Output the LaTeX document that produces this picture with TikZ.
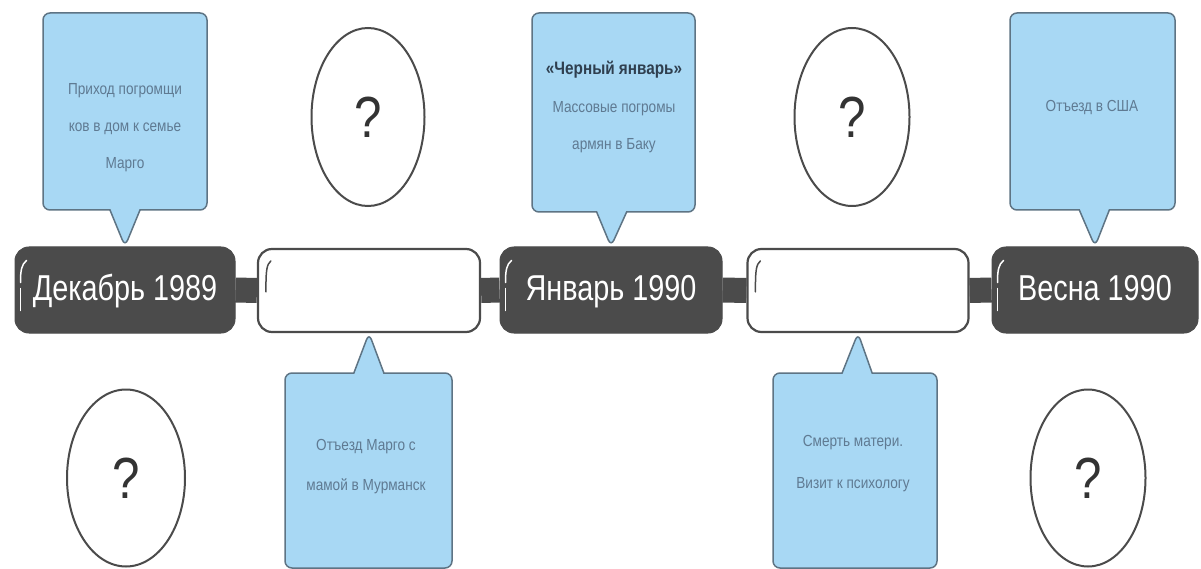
\documentclass[tikz,border=0pt]{standalone}
\usepackage{fontspec}
\setmainfont{Liberation Sans}
\newfontfamily\narrowfont[FakeStretch=0.8]{Liberation Sans}
\newfontfamily\cfont[FakeStretch=0.85]{Liberation Sans}
\usetikzlibrary{shapes.callouts,shapes.geometric,calc}
\definecolor{darkg}{HTML}{4B4B4B}
\definecolor{cfill}{HTML}{A8D8F4}
\definecolor{cborder}{HTML}{5E7484}
\definecolor{ctextc}{HTML}{5F7A92}
\definecolor{ctitle}{HTML}{2F3F4F}
\pgfdeclarelayer{bg}
\pgfsetlayers{bg,main}
\tikzset{
  darkbox/.style={draw=darkg, fill=darkg, line width=1pt, rounded corners=14pt,
    minimum height=86pt, inner sep=0pt, text=white, text height=26pt, text depth=6pt,
    font={\narrowfont\fontsize{36}{40}\selectfont}},
  whitebox/.style={draw=darkg, fill=white, line width=2.2pt, rounded corners=14pt,
    minimum height=83pt, inner sep=0pt},
  bar/.style={draw=darkg, line width=25pt},
  callbox/.style={rectangle callout, draw=cborder, line width=1.5pt, fill=cfill,
    rounded corners=7pt, callout pointer width=30pt, inner sep=0pt},
  ctext/.style={align=center, text=ctextc, inner sep=0pt,
    font={\cfont\fontsize{16}{37}\selectfont}},
  qmark/.style={ellipse, draw=darkg, line width=2pt, fill=white, inner sep=0pt,
    text=black!80, font={\cfont\fontsize{58}{60}\selectfont}},
  darcw/.style={white, line width=1.5pt, line cap=round},
  darcg/.style={darkg, line width=1.5pt, line cap=round}
}
\begin{document}
\begin{tikzpicture}[x=1pt,y=-1pt]
\useasboundingbox (0,0) rectangle (1201,569);

% timeline nodes
\node[darkbox, minimum width=220pt] (d1) at (125,290) {Декабрь 1989};
\node[whitebox, minimum width=222pt] (w1) at (369,290.5) {};
\node[darkbox, minimum width=222pt] (d2) at (611,290) {Январь 1990};
\node[whitebox, minimum width=221pt] (w2) at (858,290.5) {};
\node[darkbox, minimum width=206pt] (d3) at (1095,290) {Весна 1990};

% background and connector bars
\begin{pgfonlayer}{bg}
\fill[white] (0,0) rectangle (1201,569);
\draw[bar] (d1.east) -- (w1.west);
\draw[bar] (w1.east) -- (d2.west);
\draw[bar] (d2.east) -- (w2.west);
\draw[bar] (w2.east) -- (d3.west);
\end{pgfonlayer}

% small highlight arcs
\foreach \n in {d1,d2,d3}{
  \draw[darcw] ($(\n.north west)+(12,14)$) .. controls ($(\n.north west)+(7,18)$) and ($(\n.north west)+(6,24)$) .. ($(\n.north west)+(6,36)$);
  \draw[darcw] ($(\n.north west)+(6,42)$) -- ($(\n.north west)+(6,64)$);
}
\foreach \n in {w1,w2}{
  \draw[darcg] ($(\n.north west)+(14,13)$) .. controls ($(\n.north west)+(10,17)$) and ($(\n.north west)+(9,20)$) .. ($(\n.north west)+(9,44)$);
}

% callouts
\node[callbox, minimum width=164pt, minimum height=197pt,
  callout absolute pointer={(d1.north)}] (c1) at (125,111.5) {};
\node[callbox, minimum width=163pt, minimum height=199pt,
  callout absolute pointer={(d2.north)}] (c2) at (613.5,112.5) {};
\node[callbox, minimum width=165pt, minimum height=197pt,
  callout absolute pointer={(d3.north)}] (c5) at (1092.5,111.5) {};
\node[callbox, minimum width=167pt, minimum height=195pt,
  callout absolute pointer={(w1.south)}] (c3) at (368.5,470.5) {};
\node[callbox, minimum width=164pt, minimum height=195pt,
  callout absolute pointer={(w2.south)}] (c4) at (855,470.5) {};

% callout texts
\node[ctext] (t1) at (125,128) {Приход погромщи\\ков в дом к семье\\Марго};
\node[ctext, text=ctitle, font={\cfont\bfseries\fontsize{18}{20}\selectfont}] (t2a) at (614,70) {«Черный январь»};
\node[ctext] (t2) at (614,127) {Массовые погромы\\армян в Баку};
\node[ctext] (t5) at (1092,108) {Отъезд в США};
\node[ctext, font={\cfont\fontsize{16}{40}\selectfont}] (t3) at (366,467) {Отъезд Марго с\\мамой в Мурманск};
\node[ctext, font={\cfont\fontsize{16}{42}\selectfont}] (t4) at (853,464) {Смерть матери.\\Визит к психологу};

% question ellipses
\node[qmark, minimum width=113pt, minimum height=178pt] (q1) at (368,117) {?};
\node[qmark, minimum width=118pt, minimum height=177pt] (q2) at (126,478) {?};
\node[qmark, minimum width=115pt, minimum height=178pt] (q3) at (852,117) {?};
\node[qmark, minimum width=115pt, minimum height=177pt] (q4) at (1088,478) {?};
\end{tikzpicture}
\end{document}
